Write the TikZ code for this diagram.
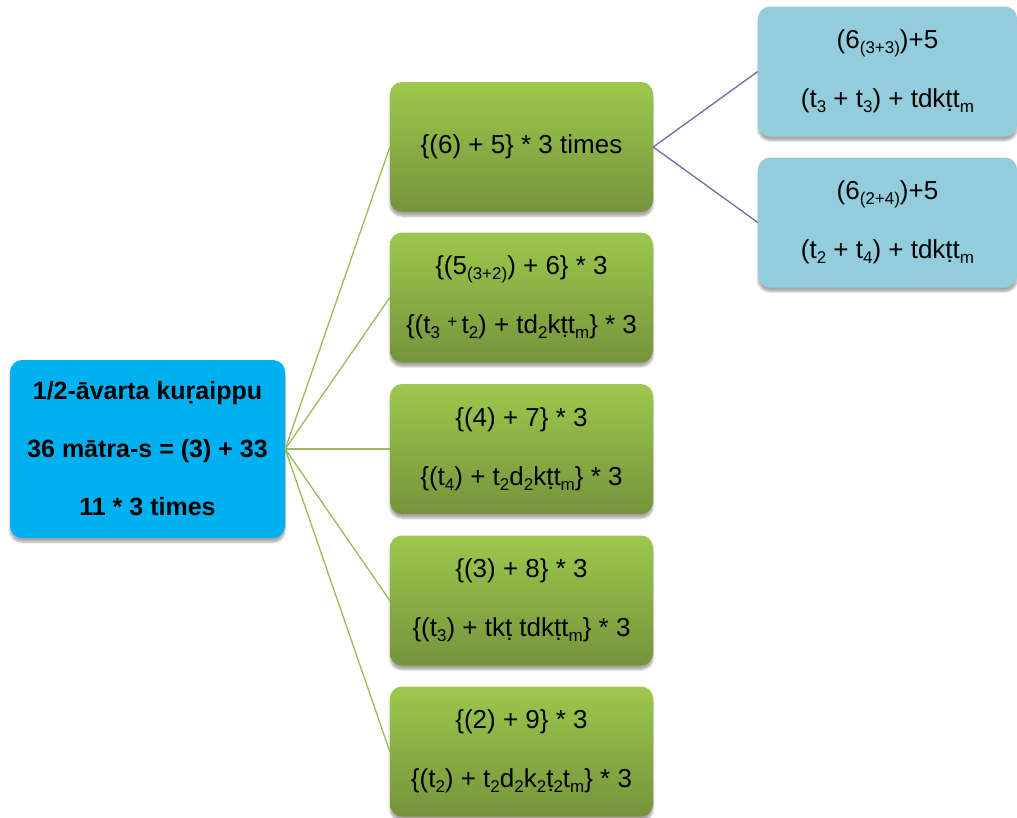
\documentclass[tikz,border=0pt]{standalone}
\usepackage{fontspec}
\setmainfont{Liberation Sans}
\usetikzlibrary{shadows.blur}
\definecolor{rootblue}{HTML}{00B0F0}
\definecolor{gtop}{HTML}{9DC84C}
\definecolor{gbot}{HTML}{76933C}
\definecolor{lblue}{HTML}{93CDDD}
\definecolor{glink}{HTML}{9BBB59}
\definecolor{plink}{HTML}{8064A2}
\newcommand\sbs[1]{\raisebox{-0.35ex}{\fontsize{17}{17}\selectfont #1}}
\newcommand\sps[1]{\raisebox{0.45ex}{\fontsize{17}{17}\selectfont #1}}
\tikzset{
  boxbase/.style={rectangle, rounded corners=12pt, inner sep=0pt, align=center,
    font=\fontsize{26}{59}\selectfont,
    blur shadow={shadow xshift=0pt, shadow yshift=-4pt, shadow blur steps=6, shadow opacity=35}},
  rootbox/.style={boxbase, fill=rootblue, minimum width=275pt, minimum height=178pt,
    font=\bfseries\fontsize{25}{58}\selectfont},
  greenbox/.style={boxbase, top color=gtop, bottom color=gbot, minimum width=263pt, minimum height=130pt},
  bluebox/.style={boxbase, fill=lblue, minimum width=259pt, minimum height=130pt},
  glinkst/.style={draw=glink, line width=1.3pt},
  plinkst/.style={draw=plink, line width=1.3pt}
}
\begin{document}
\begin{tikzpicture}[x=1pt,y=-1pt]
\useasboundingbox (0,0) rectangle (1017,817);
\node[rootbox] (root) at (147.5,449) {1/2-āvarta kuṛaippu\\36 mātra-s = (3) + 33\\11 * 3 times};
\node[greenbox] (g1) at (521.5,147) {\{(6) + 5\} * 3 times};
\node[greenbox] (g2) at (521.5,297.5) {\{(5\sbs{(3+2)}) + 6\} * 3\\\{(t\sbs{3} \sps{+}\,t\sbs{2}) + td\sbs{2}kṭt\sbs{m}\} * 3};
\node[greenbox] (g3) at (521.5,449) {\{(4) + 7\} * 3\\\{(t\sbs{4}) + t\sbs{2}d\sbs{2}kṭt\sbs{m}\} * 3};
\node[greenbox] (g4) at (521.5,600.5) {\{(3) + 8\} * 3\\\{(t\sbs{3}) + tkṭ tdkṭt\sbs{m}\} * 3};
\node[greenbox] (g5) at (521.5,751.5) {\{(2) + 9\} * 3\\\{(t\sbs{2}) + t\sbs{2}d\sbs{2}k\sbs{2}ṭ\sbs{2}t\sbs{m}\} * 3};
\node[bluebox] (b1) at (887.5,71.5) {(6\sbs{(3+3)})+5\\(t\sbs{3} + t\sbs{3}) + tdkṭt\sbs{m}};
\node[bluebox] (b2) at (887.5,222.5) {(6\sbs{(2+4)})+5\\(t\sbs{2} + t\sbs{4}) + tdkṭt\sbs{m}};
\foreach \g in {g1,g2,g3,g4,g5} \draw[glinkst] (root.east) -- (\g.west);
\draw[plinkst] (g1.east) -- (b1.west);
\draw[plinkst] (g1.east) -- (b2.west);
\end{tikzpicture}
\end{document}
